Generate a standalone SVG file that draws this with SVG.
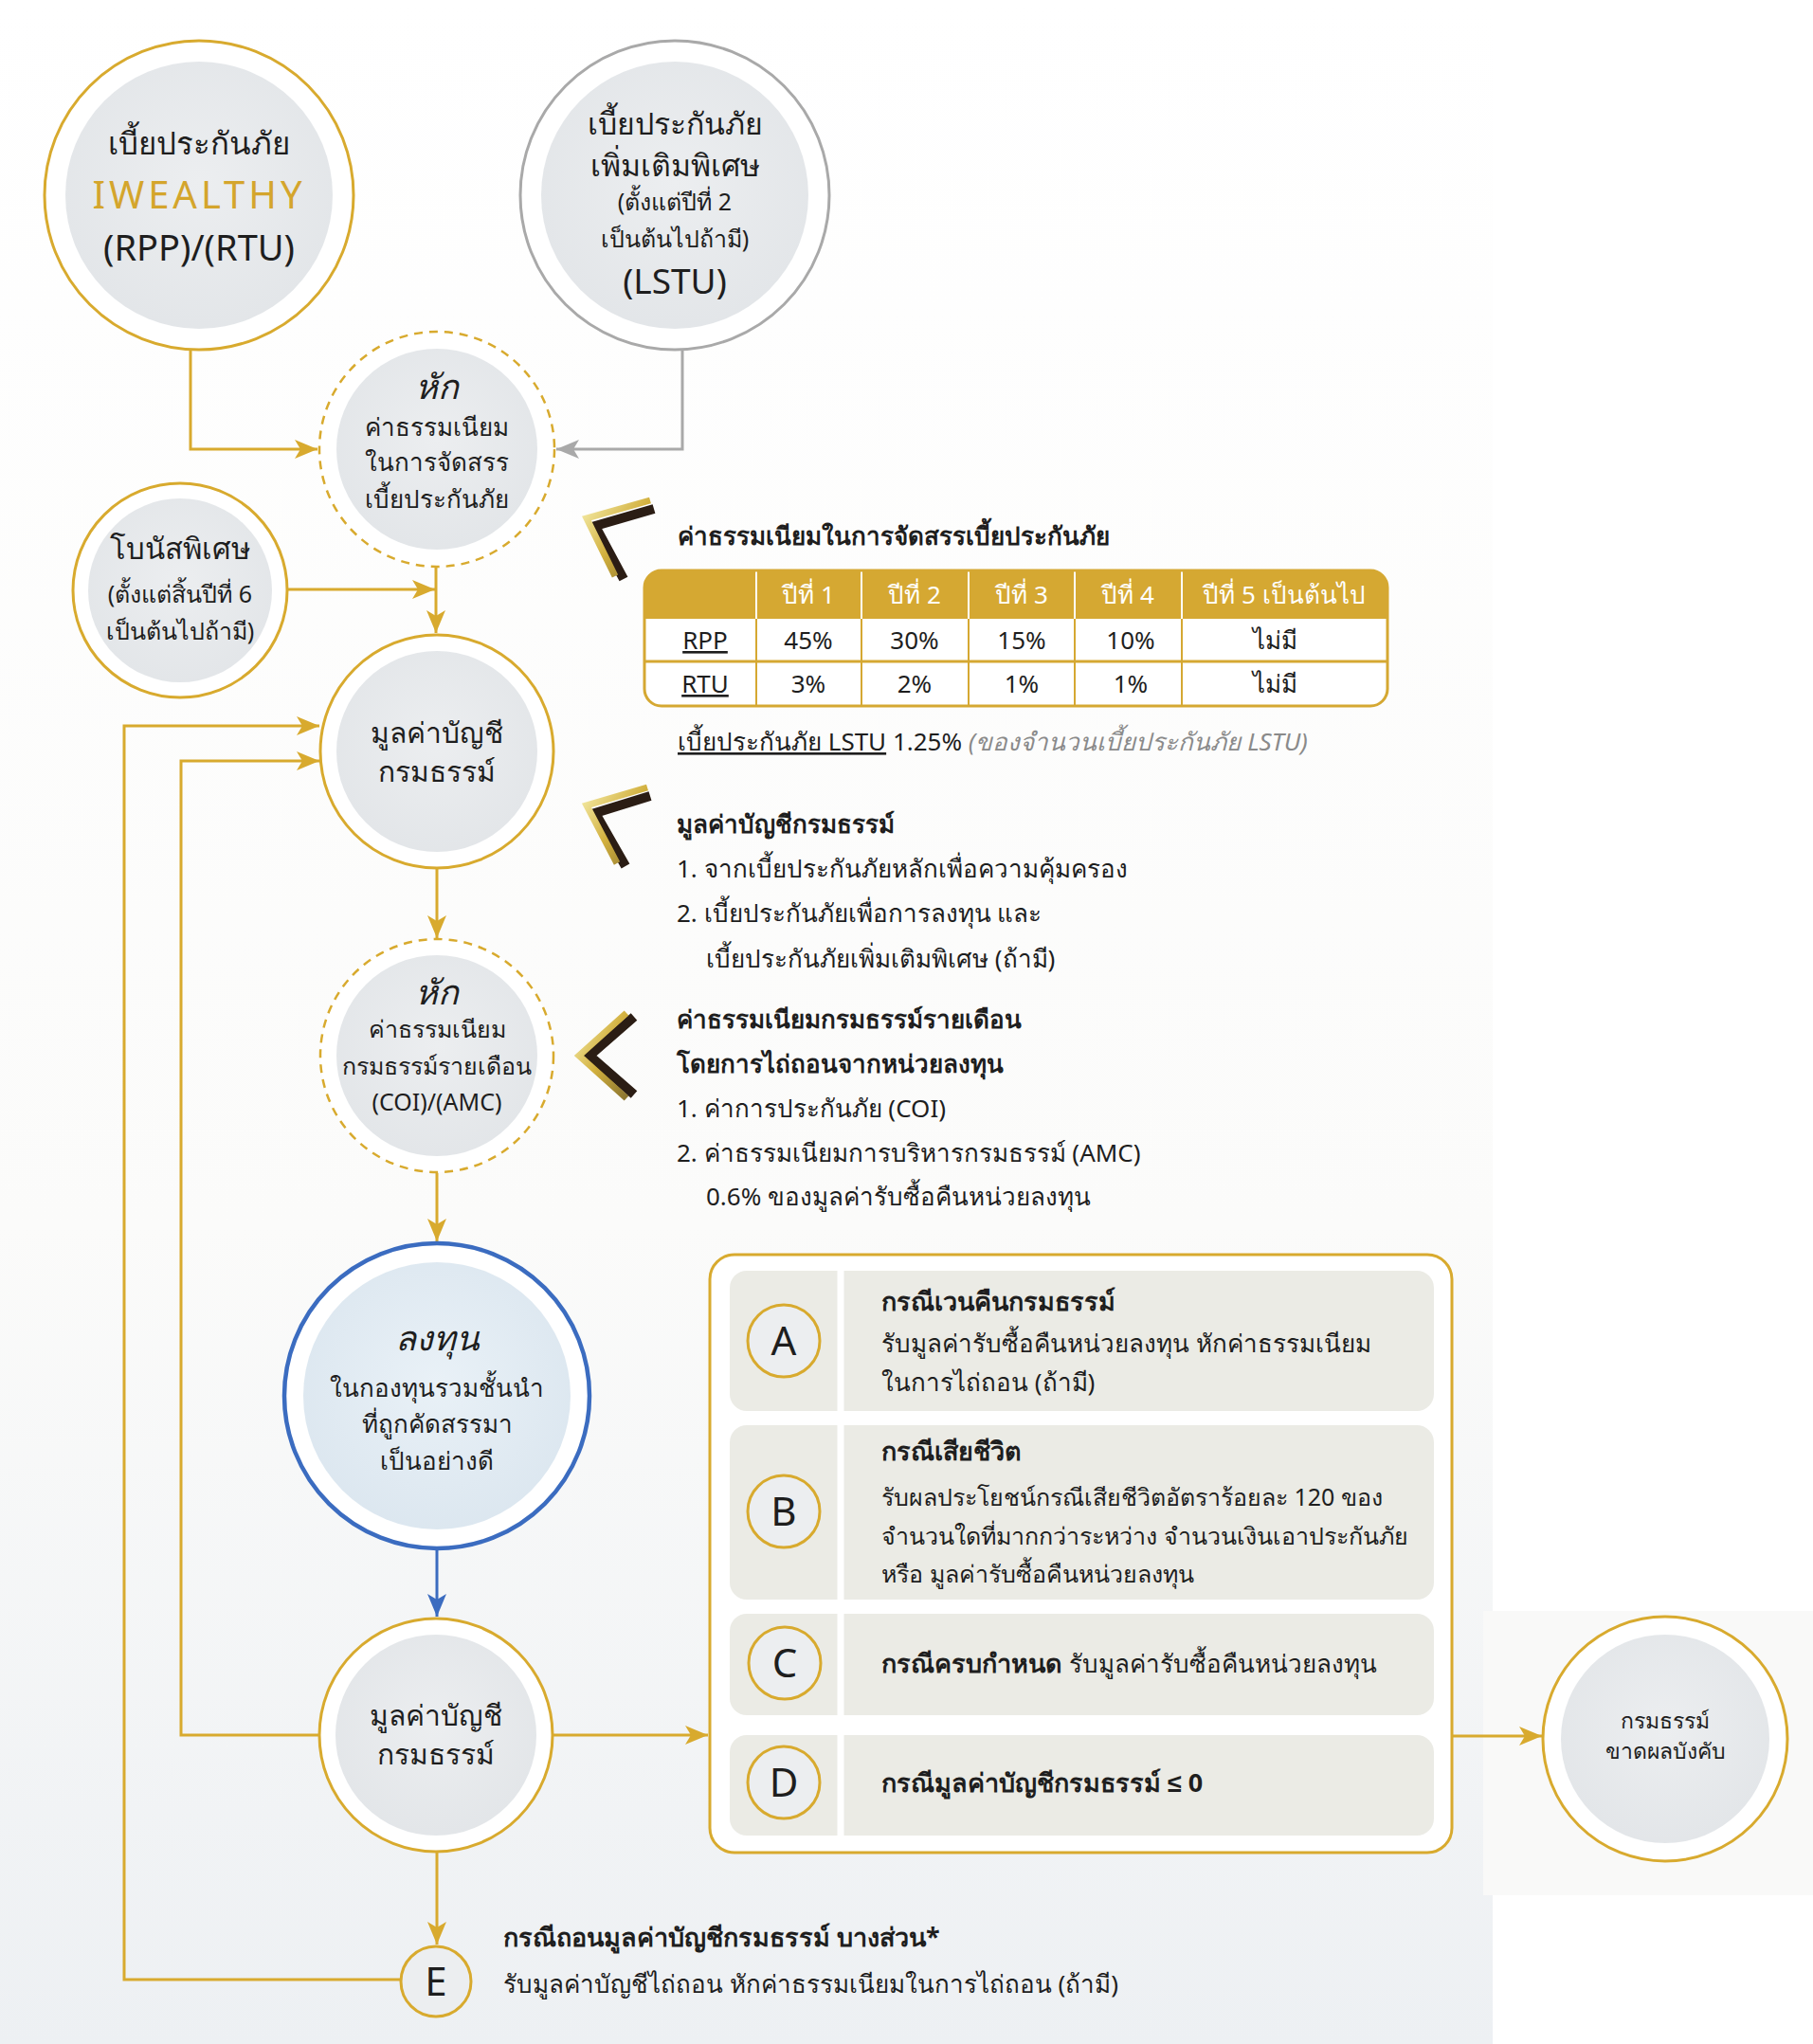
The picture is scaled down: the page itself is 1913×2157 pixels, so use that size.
<svg xmlns="http://www.w3.org/2000/svg" width="1913" height="2157" viewBox="0 0 1913 2157">
<style>
.t{font-family:"Noto Sans","Liberation Sans",sans-serif;fill:#1e1e1e}
.c{text-anchor:middle}
.b{font-weight:bold}
.i{font-style:italic}
.ln{fill:none;stroke:#d8aa2e;stroke-width:3}
.lnGray{fill:none;stroke:#a9a9a9;stroke-width:3}
.lnBlue{fill:none;stroke:#3b6cc0;stroke-width:3}
.ring{fill:#ffffff;stroke:#d8aa2e;stroke-width:3}
.ringDash{fill:#ffffff;stroke:#d8aa2e;stroke-width:2.5;stroke-dasharray:9 7}
.core{fill:url(#coreG)}
.row{fill:#ebebe5}
.sep{stroke:#ffffff;stroke-width:7}
.let{fill:#eceef0;stroke:#d8aa2e;stroke-width:3}
.chevD{fill:none;stroke:#2b1d14;stroke-width:10;stroke-linejoin:miter}
.chevG{fill:none;stroke:url(#chevG);stroke-width:7;stroke-linejoin:miter}
</style>
<defs>
<radialGradient id="coreG" cx="0.5" cy="0.45" r="0.6">
<stop offset="0" stop-color="#eceef0"/><stop offset="1" stop-color="#e2e5e8"/>
</radialGradient>
<radialGradient id="coreB" cx="0.5" cy="0.45" r="0.6">
<stop offset="0" stop-color="#e9f1f7"/><stop offset="1" stop-color="#dbe6ef"/>
</radialGradient>
<linearGradient id="bgG" x1="0" y1="0" x2="0" y2="1">
<stop offset="0" stop-color="#ffffff"/><stop offset="0.6" stop-color="#fbfbfa"/><stop offset="1" stop-color="#edf0f3"/>
</linearGradient>
<linearGradient id="chevG" x1="0" y1="0" x2="1" y2="1">
<stop offset="0" stop-color="#f5eca8"/><stop offset="0.5" stop-color="#d2b03e"/><stop offset="1" stop-color="#8a7430"/>
</linearGradient>
<clipPath id="tblClip"><rect x="680" y="602" width="784" height="143" rx="18"/></clipPath>
<marker id="aGold" markerUnits="userSpaceOnUse" markerWidth="26" markerHeight="20" refX="24" refY="10" orient="auto">
<path d="M0,0 L24,10 L0,20 L6,10 z" fill="#d8aa2e"/>
</marker>
<marker id="aGray" markerUnits="userSpaceOnUse" markerWidth="26" markerHeight="20" refX="24" refY="10" orient="auto">
<path d="M0,0 L24,10 L0,20 L6,10 z" fill="#a9a9a9"/>
</marker>
<marker id="aBlue" markerUnits="userSpaceOnUse" markerWidth="26" markerHeight="20" refX="24" refY="10" orient="auto">
<path d="M0,0 L24,10 L0,20 L6,10 z" fill="#3b6cc0"/>
</marker>
</defs>

<rect x="0" y="0" width="1913" height="2157" fill="#ffffff"/>
<rect x="0" y="0" width="1575" height="2157" fill="url(#bgG)"/>
<rect x="1565" y="1700" width="348" height="300" fill="#f9f9f8"/>

<g id="connectors">
<path class="ln" d="M201,370 V474 H335" marker-end="url(#aGold)"/>
<path class="lnGray" d="M720,370 V474 H587" marker-end="url(#aGray)"/>
<path class="ln" d="M460,598 V668" marker-end="url(#aGold)"/>
<path class="ln" d="M303,622 H459" marker-end="url(#aGold)"/>
<path class="ln" d="M422,2089 H131 V766 H337" marker-end="url(#aGold)"/>
<path class="ln" d="M336,1831 H191 V803 H337" marker-end="url(#aGold)"/>
<path class="ln" d="M461,916 V990" marker-end="url(#aGold)"/>
<path class="ln" d="M461,1238 V1310" marker-end="url(#aGold)"/>
<path class="lnBlue" d="M461,1636 V1706" marker-end="url(#aBlue)"/>
<path class="ln" d="M583,1831 H747" marker-end="url(#aGold)"/>
<path class="ln" d="M461,1954 V2052" marker-end="url(#aGold)"/>
<path class="ln" d="M1532,1832 H1627" marker-end="url(#aGold)"/>
</g>

<g id="premium-iwealthy">
<circle class="ring" cx="210" cy="206" r="163"/>
<circle class="core" cx="210" cy="206" r="141"/>
<text class="t c" x="210" y="163" font-size="33">เบี้ยประกันภัย</text>
<text class="t c" x="210" y="220" font-size="40" letter-spacing="4" style="fill:#d4a52c">IWEALTHY</text>
<text class="t c" x="210" y="275" font-size="38">(RPP)/(RTU)</text>
</g>

<g id="premium-lstu">
<circle cx="712" cy="206" r="163" fill="#ffffff" stroke="#a9a9a9" stroke-width="3"/>
<circle class="core" cx="712" cy="206" r="141"/>
<text class="t c" x="712" y="142" font-size="32">เบี้ยประกันภัย</text>
<text class="t c" x="712" y="186" font-size="32">เพิ่มเติมพิเศษ</text>
<text class="t c" x="712" y="222" font-size="25">(ตั้งแต่ปีที่ 2</text>
<text class="t c" x="712" y="261" font-size="25">เป็นต้นไปถ้ามี)</text>
<text class="t c" x="712" y="310" font-size="37">(LSTU)</text>
</g>

<g id="deduct-allocation">
<circle class="ringDash" cx="461" cy="474" r="124"/>
<circle class="core" cx="461" cy="474" r="106"/>
<text class="t c i" x="461" y="421" font-size="36">หัก</text>
<text class="t c" x="461" y="460" font-size="26">ค่าธรรมเนียม</text>
<text class="t c" x="461" y="497" font-size="26">ในการจัดสรร</text>
<text class="t c" x="461" y="536" font-size="26">เบี้ยประกันภัย</text>
</g>

<g id="bonus">
<circle class="ring" cx="190" cy="623" r="113"/>
<circle class="core" cx="190" cy="623" r="97"/>
<text class="t c" x="190" y="590" font-size="31">โบนัสพิเศษ</text>
<text class="t c" x="190" y="636" font-size="25">(ตั้งแต่สิ้นปีที่ 6</text>
<text class="t c" x="190" y="675" font-size="25">เป็นต้นไปถ้ามี)</text>
</g>

<g id="account-value-1">
<circle class="ring" cx="461" cy="793" r="123"/>
<circle class="core" cx="461" cy="793" r="106"/>
<text class="t c" x="461" y="784" font-size="30">มูลค่าบัญชี</text>
<text class="t c" x="461" y="825" font-size="30">กรมธรรม์</text>
</g>

<g id="deduct-monthly">
<circle class="ringDash" cx="461" cy="1114" r="123"/>
<circle class="core" cx="461" cy="1114" r="106"/>
<text class="t c i" x="461" y="1060" font-size="36">หัก</text>
<text class="t c" x="461" y="1095" font-size="25">ค่าธรรมเนียม</text>
<text class="t c" x="461" y="1134" font-size="25">กรมธรรม์รายเดือน</text>
<text class="t c" x="461" y="1172" font-size="25">(COI)/(AMC)</text>
</g>

<g id="invest">
<circle cx="461" cy="1473" r="161" fill="#ffffff" stroke="#3b6cc0" stroke-width="4.5"/>
<circle cx="461" cy="1473" r="141" fill="url(#coreB)"/>
<text class="t c i" x="461" y="1425" font-size="36">ลงทุน</text>
<text class="t c" x="461" y="1474" font-size="26">ในกองทุนรวมชั้นนำ</text>
<text class="t c" x="461" y="1512" font-size="26">ที่ถูกคัดสรรมา</text>
<text class="t c" x="461" y="1551" font-size="26">เป็นอย่างดี</text>
</g>

<g id="account-value-2">
<circle class="ring" cx="460" cy="1831" r="123"/>
<circle class="core" cx="460" cy="1831" r="106"/>
<text class="t c" x="460" y="1821" font-size="30">มูลค่าบัญชี</text>
<text class="t c" x="460" y="1862" font-size="30">กรมธรรม์</text>
</g>

<g id="lapse">
<circle class="ring" cx="1757" cy="1835" r="129"/>
<circle class="core" cx="1757" cy="1835" r="110"/>
<text class="t c" x="1757" y="1824" font-size="23">กรมธรรม์</text>
<text class="t c" x="1757" y="1856" font-size="23">ขาดผลบังคับ</text>
</g>

<g id="partial-withdrawal">
<circle class="let" cx="460" cy="2091" r="37"/>
<text class="t c" x="460" y="2106" font-size="42">E</text>
<text class="t b" x="531" y="2054" font-size="27">กรณีถอนมูลค่าบัญชีกรมธรรม์ บางส่วน*</text>
<text class="t" x="531" y="2103" font-size="26">รับมูลค่าบัญชีไถ่ถอน หักค่าธรรมเนียมในการไถ่ถอน (ถ้ามี)</text>
</g>

<g id="allocation-fee-note">
<polyline class="chevD" points="690,537 628,555 658,611"/>
<polyline class="chevG" points="686,528 619,547 649,608"/>
<text class="t b" x="715" y="575" font-size="26">ค่าธรรมเนียมในการจัดสรรเบี้ยประกันภัย</text>
<g clip-path="url(#tblClip)">
<rect x="680" y="602" width="784" height="143" fill="#ffffff"/>
<rect x="680" y="602" width="784" height="51" fill="#d5a832"/>
</g>
<g stroke="#ffffff" stroke-width="2">
<line x1="798" y1="602" x2="798" y2="653"/><line x1="909" y1="602" x2="909" y2="653"/>
<line x1="1022" y1="602" x2="1022" y2="653"/><line x1="1134" y1="602" x2="1134" y2="653"/>
<line x1="1247" y1="602" x2="1247" y2="653"/>
</g>
<g stroke="#d5a832" stroke-width="2">
<line x1="798" y1="653" x2="798" y2="745"/><line x1="909" y1="653" x2="909" y2="745"/>
<line x1="1022" y1="653" x2="1022" y2="745"/><line x1="1134" y1="653" x2="1134" y2="745"/>
<line x1="1247" y1="653" x2="1247" y2="745"/>
<line x1="680" y1="698" x2="1464" y2="698" stroke-width="3"/>
</g>
<rect x="680" y="602" width="784" height="143" rx="18" fill="none" stroke="#d5a832" stroke-width="3"/>
<g class="t c" font-size="26" style="fill:#ffffff">
<text x="853" y="637" style="fill:#ffffff">ปีที่ 1</text>
<text x="965" y="637" style="fill:#ffffff">ปีที่ 2</text>
<text x="1078" y="637" style="fill:#ffffff">ปีที่ 3</text>
<text x="1190" y="637" style="fill:#ffffff">ปีที่ 4</text>
<text x="1355" y="637" style="fill:#ffffff">ปีที่ 5 เป็นต้นไป</text>
</g>
<g font-size="26">
<text class="t c" x="744" y="685" text-decoration="underline">RPP</text>
<text class="t c" x="853" y="685">45%</text>
<text class="t c" x="965" y="685">30%</text>
<text class="t c" x="1078" y="685">15%</text>
<text class="t c" x="1193" y="685">10%</text>
<text class="t c" x="1345" y="685">ไม่มี</text>
<text class="t c" x="744" y="731" text-decoration="underline">RTU</text>
<text class="t c" x="853" y="731">3%</text>
<text class="t c" x="965" y="731">2%</text>
<text class="t c" x="1078" y="731">1%</text>
<text class="t c" x="1193" y="731">1%</text>
<text class="t c" x="1345" y="731">ไม่มี</text>
</g>
<text class="t" x="715" y="792" font-size="26"><tspan text-decoration="underline">เบี้ยประกันภัย LSTU</tspan> 1.25% <tspan class="i" style="fill:#8a8a8a">(ของจำนวนเบี้ยประกันภัย LSTU)</tspan></text>
</g>

<g id="account-value-note">
<polyline class="chevD" points="686,840 628,858 660,914"/>
<polyline class="chevG" points="683,831 619,850 651,911"/>
<text class="t b" x="714" y="879" font-size="26">มูลค่าบัญชีกรมธรรม์</text>
<text class="t" x="714" y="926" font-size="26">1. จากเบี้ยประกันภัยหลักเพื่อความคุ้มครอง</text>
<text class="t" x="714" y="973" font-size="26">2. เบี้ยประกันภัยเพื่อการลงทุน และ</text>
<text class="t" x="745" y="1021" font-size="26">เบี้ยประกันภัยเพิ่มเติมพิเศษ (ถ้ามี)</text>
</g>

<g id="monthly-fee-note">
<polyline class="chevD" points="669,1073 622,1114 669,1155"/>
<polyline class="chevG" points="661,1069 611,1114 661,1159"/>
<text class="t b" x="714" y="1085" font-size="26">ค่าธรรมเนียมกรมธรรม์รายเดือน</text>
<text class="t b" x="714" y="1132" font-size="26">โดยการไถ่ถอนจากหน่วยลงทุน</text>
<text class="t" x="714" y="1179" font-size="26">1. ค่าการประกันภัย (COI)</text>
<text class="t" x="714" y="1226" font-size="26">2. ค่าธรรมเนียมการบริหารกรมธรรม์ (AMC)</text>
<text class="t" x="745" y="1272" font-size="26">0.6% ของมูลค่ารับซื้อคืนหน่วยลงทุน</text>
</g>

<g id="outcomes">
<rect x="749" y="1324" width="783" height="631" rx="26" fill="#ffffff" stroke="#d8aa2e" stroke-width="3"/>
<rect class="row" x="770" y="1341" width="743" height="148" rx="18"/>
<rect class="row" x="770" y="1504" width="743" height="184" rx="18"/>
<rect class="row" x="770" y="1703" width="743" height="107" rx="18"/>
<rect class="row" x="770" y="1831" width="743" height="106" rx="18"/>
<line class="sep" x1="887" y1="1341" x2="887" y2="1489"/>
<line class="sep" x1="887" y1="1504" x2="887" y2="1688"/>
<line class="sep" x1="887" y1="1703" x2="887" y2="1810"/>
<line class="sep" x1="887" y1="1831" x2="887" y2="1937"/>
<g id="case-a">
<circle class="let" cx="827" cy="1415" r="38"/>
<text class="t c" x="827" y="1430" font-size="42">A</text>
<text class="t b" x="930" y="1383" font-size="27">กรณีเวนคืนกรมธรรม์</text>
<text class="t" x="930" y="1427" font-size="26">รับมูลค่ารับซื้อคืนหน่วยลงทุน หักค่าธรรมเนียม</text>
<text class="t" x="930" y="1468" font-size="26">ในการไถ่ถอน (ถ้ามี)</text>
</g>
<g id="case-b">
<circle class="let" cx="827" cy="1595" r="38"/>
<text class="t c" x="827" y="1610" font-size="42">B</text>
<text class="t b" x="930" y="1541" font-size="27">กรณีเสียชีวิต</text>
<text class="t" x="930" y="1589" font-size="25">รับผลประโยชน์กรณีเสียชีวิตอัตราร้อยละ 120 ของ</text>
<text class="t" x="930" y="1630" font-size="25">จำนวนใดที่มากกว่าระหว่าง จำนวนเงินเอาประกันภัย</text>
<text class="t" x="930" y="1670" font-size="25">หรือ มูลค่ารับซื้อคืนหน่วยลงทุน</text>
</g>
<g id="case-c">
<circle class="let" cx="828" cy="1755" r="38"/>
<text class="t c" x="828" y="1770" font-size="42">C</text>
<text class="t" x="930" y="1765" font-size="26"><tspan class="b" font-size="27">กรณีครบกำหนด</tspan> รับมูลค่ารับซื้อคืนหน่วยลงทุน</text>
</g>
<g id="case-d">
<circle class="let" cx="827" cy="1881" r="38"/>
<text class="t c" x="827" y="1896" font-size="42">D</text>
<text class="t b" x="930" y="1891" font-size="27">กรณีมูลค่าบัญชีกรมธรรม์ ≤ 0</text>
</g>
</g>
</svg>
